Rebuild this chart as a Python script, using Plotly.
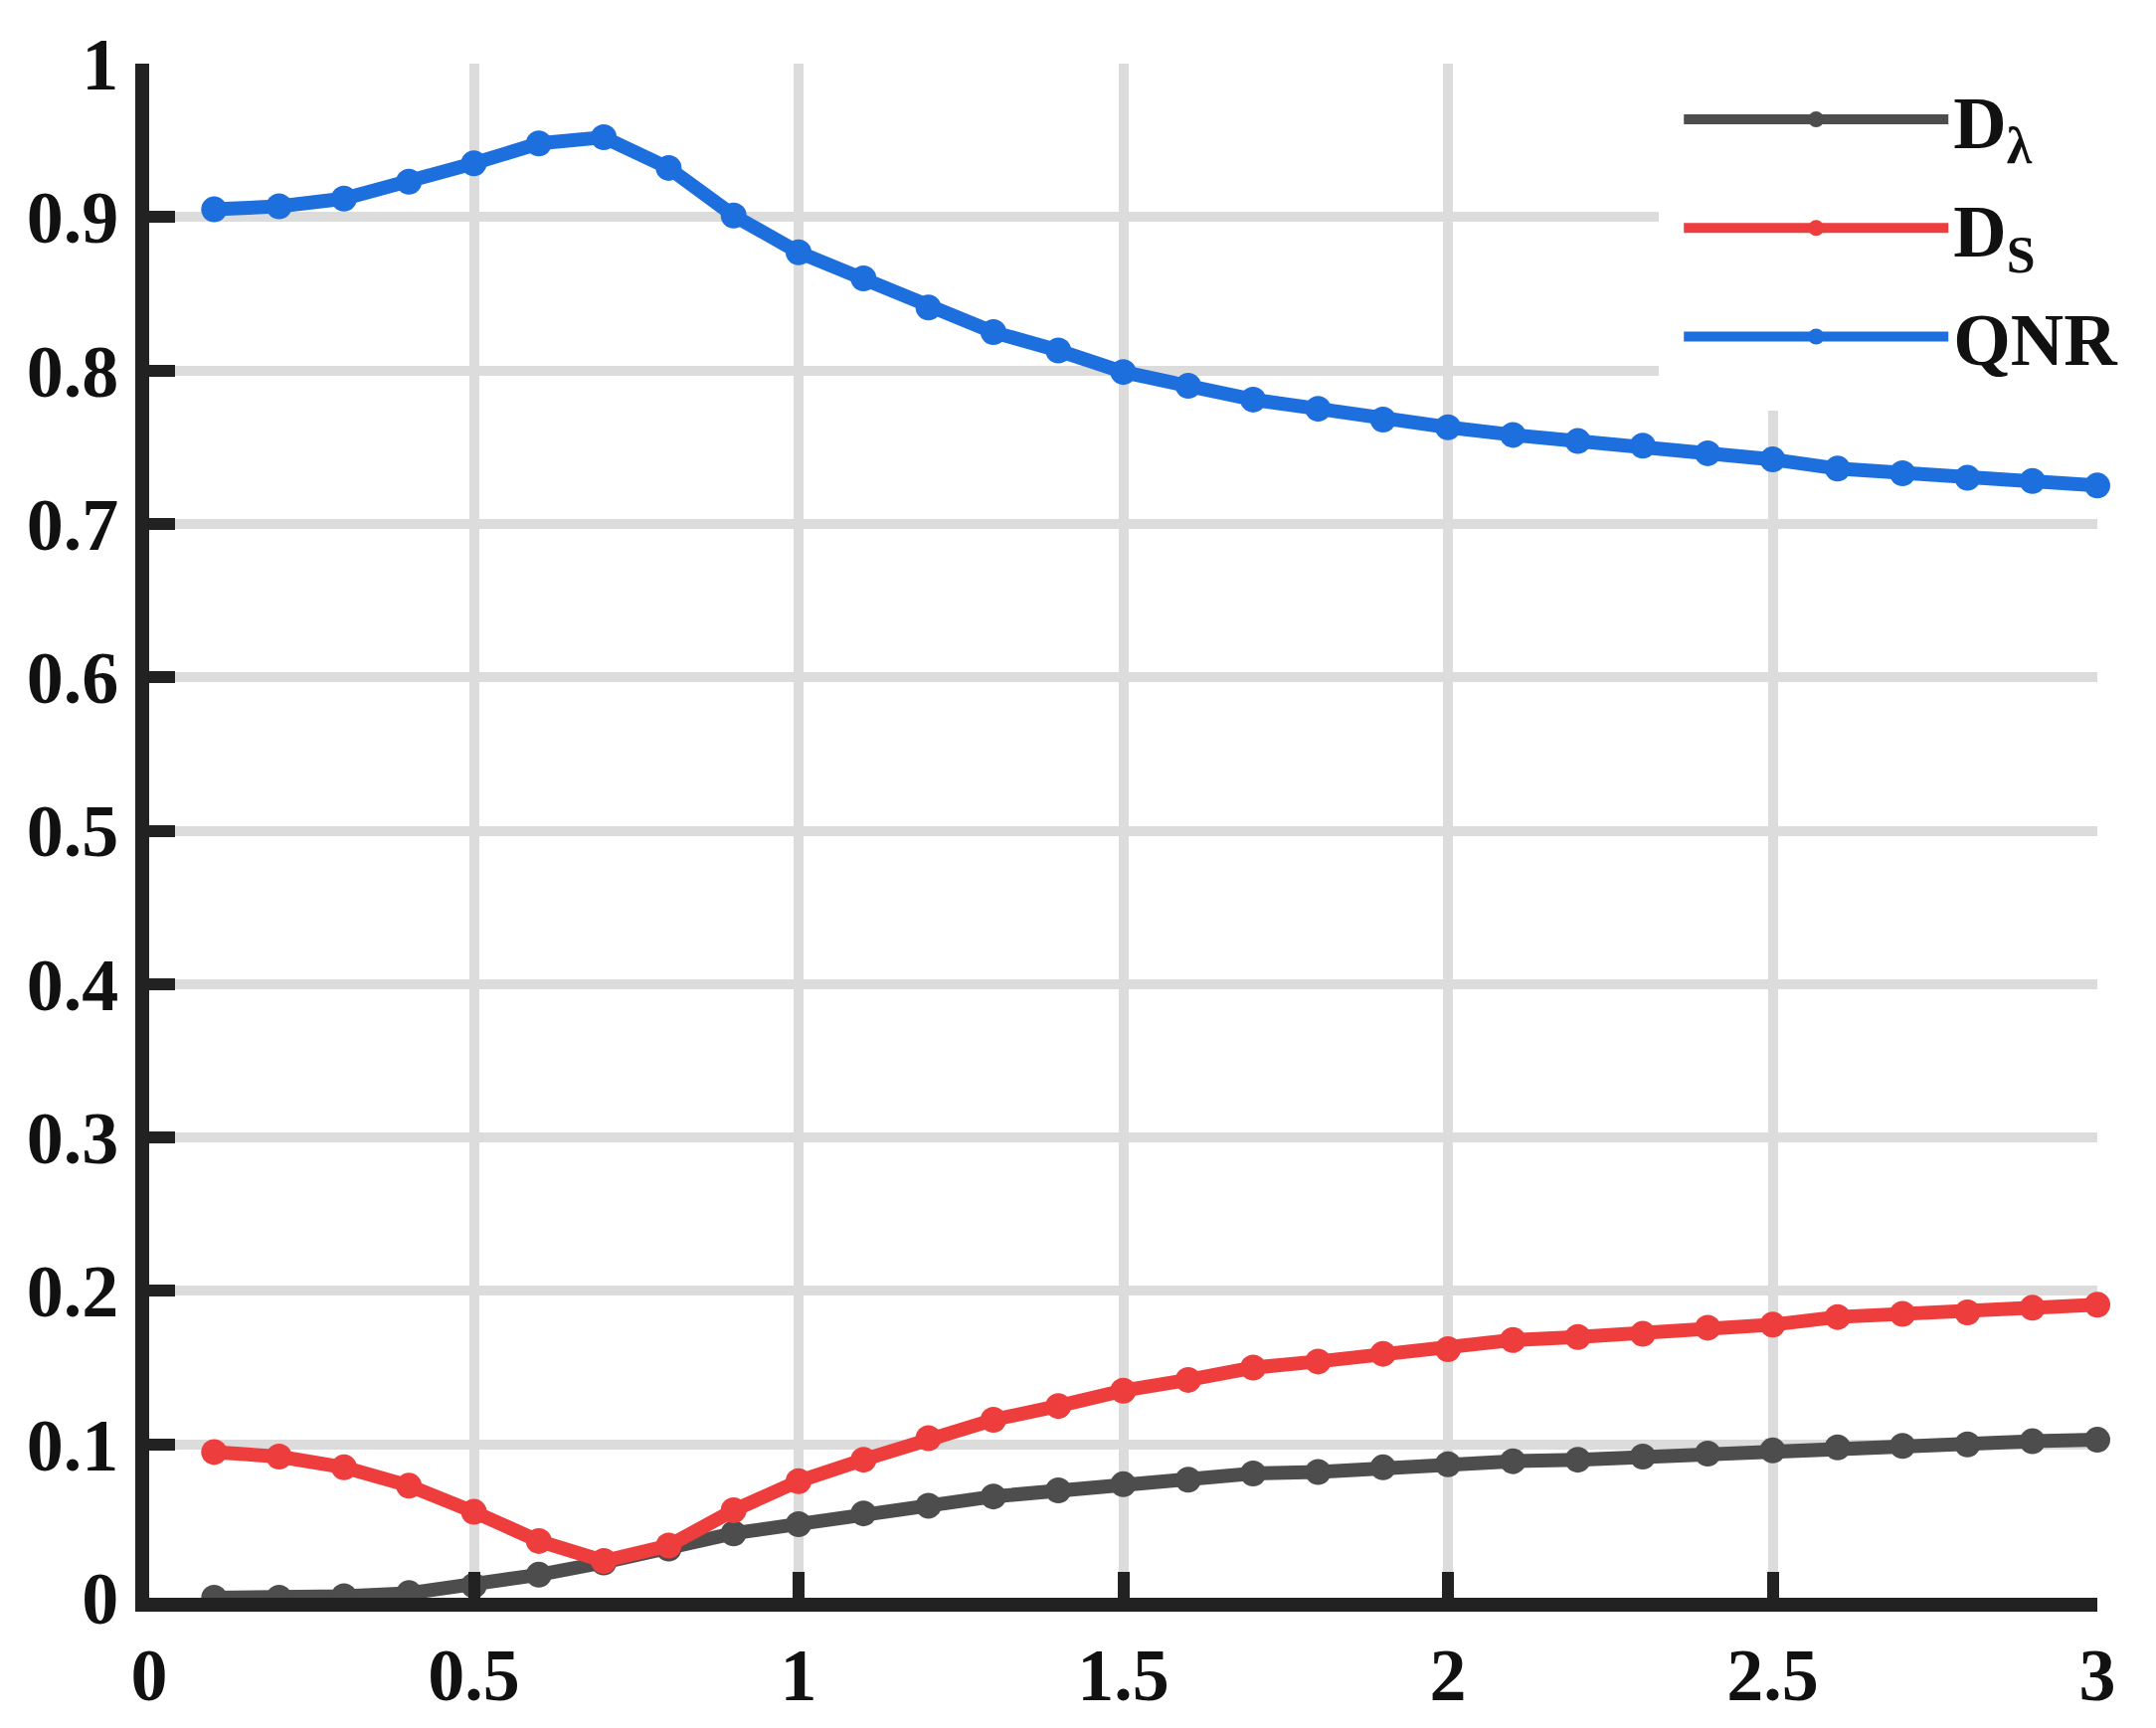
import plotly.graph_objects as go

x_vals = [round(0.1 * i, 1) for i in range(1, 31)]

d_lambda = [0.000, 0.000, 0.001, 0.003, 0.008, 0.015, 0.023, 0.032, 0.042, 0.048,
            0.055, 0.060, 0.066, 0.070, 0.074, 0.077, 0.081, 0.082, 0.085, 0.087,
            0.089, 0.090, 0.092, 0.094, 0.096, 0.098, 0.099, 0.100, 0.102, 0.103]

d_s = [0.095, 0.092, 0.085, 0.073, 0.056, 0.037, 0.024, 0.034, 0.057, 0.076,
       0.090, 0.104, 0.116, 0.125, 0.135, 0.142, 0.150, 0.154, 0.159, 0.162,
       0.168, 0.170, 0.172, 0.176, 0.178, 0.183, 0.185, 0.186, 0.189, 0.191]

qnr = [0.905, 0.907, 0.912, 0.923, 0.935, 0.948, 0.952, 0.932, 0.901, 0.877,
       0.860, 0.841, 0.825, 0.813, 0.799, 0.790, 0.781, 0.775, 0.768, 0.763,
       0.758, 0.754, 0.751, 0.746, 0.742, 0.736, 0.733, 0.730, 0.728, 0.725]

series_names = ["D<sub>λ</sub>", "D<sub>S</sub>", "QNR"]
series_colors = ["#4d4d4d", "#ee3d3d", "#1e6fde"]
series_values = [d_lambda, d_s, qnr]

x_ticks = [0, 0.5, 1, 1.5, 2, 2.5, 3]
x_tick_text = ["0", "0.5", "1", "1.5", "2", "2.5", "3"]
y_ticks = [0, 0.1, 0.2, 0.3, 0.4, 0.5, 0.6, 0.7, 0.8, 0.9, 1]
y_tick_text = ["0", "0.1", "0.2", "0.3", "0.4", "0.5", "0.6", "0.7", "0.8", "0.9", "1"]

FONT = "Times New Roman, Liberation Serif, serif"

fig = go.Figure()
for i, (name, color, vals) in enumerate(zip(series_names, series_colors, series_values)):
    fig.add_trace(go.Scatter(
        x=x_vals, y=vals, name=name, mode="lines+markers",
        legendgroup=f"g{i}",
        line=dict(color=color, width=14),
        marker=dict(color=color, size=26),
        cliponaxis=False,
    ))

axis_common = dict(
    showline=True, linecolor="#222222", linewidth=14,
    ticks="inside", ticklen=26, tickwidth=12, tickcolor="#222222",
    showgrid=True, gridcolor="#dcdcdc", gridwidth=10,
    zeroline=False, mirror=False, automargin=False,
    tickfont=dict(family=FONT, size=74, color="#111111", weight="bold"),
)

fig.update_xaxes(range=[0, 3], tickvals=x_ticks, ticktext=x_tick_text,
                 ticklabelstandoff=0, **axis_common)
fig.update_yaxes(range=[0, 1], tickvals=y_ticks, ticktext=y_tick_text,
                 ticklabelstandoff=2, **axis_common)

fig.update_layout(
    width=2168, height=1738,
    margin=dict(l=142, r=67, t=56, b=139),
    plot_bgcolor="white", paper_bgcolor="white",
    showlegend=True,
    legend=dict(
        x=0.775, y=1.012, xanchor="left", yanchor="top",
        bgcolor="white", bordercolor="white", borderwidth=20,
        font=dict(family=FONT, size=74, color="#111111", weight="bold"),
        itemwidth=266, tracegroupgap=10, traceorder="grouped",
    ),
)

fig.write_html("out.html")
